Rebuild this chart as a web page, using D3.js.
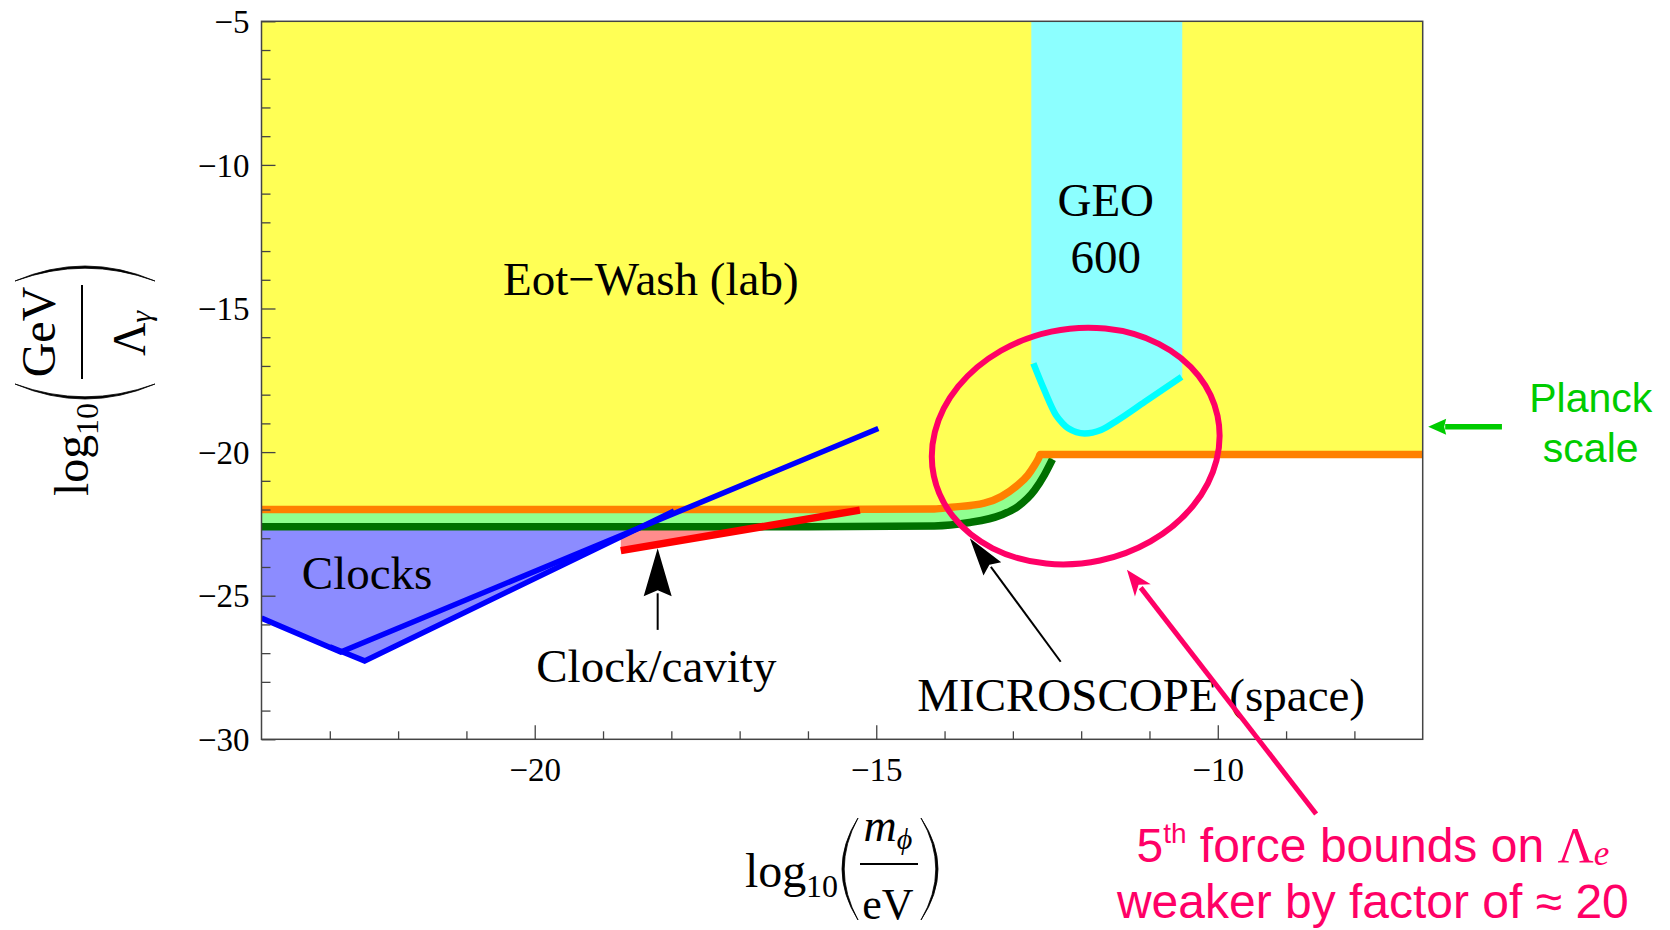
<!DOCTYPE html>
<html>
<head>
<meta charset="utf-8">
<script src="https://cdn.jsdelivr.net/npm/d3@7"></script>
<style>
  html, body { margin: 0; padding: 0; background: #fff; }
  svg { display: block; }
</style>
</head>
<body>
<svg id="chart" width="1670" height="930"></svg>
<script>
// ---- axes (log10 units) ----
const xDomain = [-24, -7];
const yDomain = [-30, -5];
const xMajorTicks = [-20, -15, -10];
const yMajorTicks = [-30, -25, -20, -15, -10, -5];

// ---- Eot-Wash (lab) bound, upper edge of the excluded region ----
const eotWashX = [-24, -16, -14.15, -13.9, -13.42, -13.17, -12.93, -12.78, -12.68, -12.62, -12.6, -7];
const eotWashY = [-22.0, -22.0, -21.98, -21.92, -21.78, -21.55, -21.15, -20.80, -20.45, -20.2, -20.08, -20.08];

// ---- MICROSCOPE (space) bound ----
const microscopeX = [-24, -16, -14.15, -13.66, -13.17, -12.93, -12.68, -12.54, -12.42];
const microscopeY = [-22.6, -22.6, -22.57, -22.46, -22.19, -21.90, -21.32, -20.80, -20.25];

// ---- GEO 600 ----
const geoBand = [-12.73, -10.52];
const geoX = [-12.70, -12.54, -12.37, -12.27, -12.19, -11.95, -11.71, -11.46, -11.07, -10.53];
const geoY = [-16.91, -17.84, -18.71, -19.0, -19.17, -19.35, -19.23, -18.88, -18.25, -17.38];

// ---- Clocks (two curves and their excluded region) ----
const clocksAX = [-24, -22.84, -14.97];
const clocksAY = [-25.78, -26.96, -19.18];
const clocksBX = [-23.0, -22.49, -17.96];
const clocksBY = [-26.78, -27.27, -22.05];
const clocksFillX = [-24, -24, -22.49, -18.44];
const clocksFillY = [-22.6, -25.78, -27.27, -22.6];

// ---- Clock/cavity ----
const cavityX = [-18.74, -15.24];
const cavityY = [-23.43, -22.02];
const cavityFillX = [-18.74, -16.68, -18.74];
const cavityFillY = [-23.43, -22.6, -22.6];

const zip = (xs, ys) => xs.map((v, i) => [v, ys[i]]);

const svg = d3.select("#chart");
const W = 1670, H = 930;
const plot = { left: 261.5, top: 21.3, right: 1422.7, bottom: 739.3 };

const x = d3.scaleLinear().domain(xDomain).range([plot.left, plot.right]);
const y = d3.scaleLinear().domain(yDomain).range([plot.bottom, plot.top]);

const SERIF = "'Liberation Serif', 'Times New Roman', serif";
const SANS = "'Liberation Sans', Arial, sans-serif";

svg.append("rect").attr("width", W).attr("height", H).attr("fill", "#fff");

svg.append("defs").append("clipPath").attr("id", "plotClip")
  .append("rect")
  .attr("x", plot.left).attr("y", plot.top)
  .attr("width", plot.right - plot.left).attr("height", plot.bottom - plot.top);

const g = svg.append("g").attr("clip-path", "url(#plotClip)");

const lineGen = d3.line().x(d => x(d[0])).y(d => y(d[1]));
const smoothLine = d3.line().x(d => x(d[0])).y(d => y(d[1])).curve(d3.curveMonotoneX);
const fromTop = d3.area().x(d => x(d[0])).y0(y(yDomain[1])).y1(d => y(d[1])).curve(d3.curveMonotoneX);

// region between the two fifth-force bounds
g.append("path").attr("d", fromTop(zip(microscopeX, microscopeY))).attr("fill", "#90ff90");
// Eot-Wash excluded region
g.append("path").attr("d", fromTop(zip(eotWashX, eotWashY))).attr("fill", "#ffff55");

// GEO 600 band
const geoPts = zip(geoX, geoY);
const geoFill = [[geoBand[0], geoY[0]], ...geoPts, [geoBand[1], geoY[geoY.length - 1]]];
g.append("path").attr("d", fromTop(geoFill)).attr("fill", "#8cffff");

// Clock/cavity and Clocks excluded regions
g.append("path").attr("d", lineGen(zip(cavityFillX, cavityFillY)) + "Z").attr("fill", "#ff8c8c");
g.append("path").attr("d", lineGen(zip(clocksFillX, clocksFillY)) + "Z").attr("fill", "#8c8cff");

// bound curves
g.append("path").attr("d", smoothLine(zip(microscopeX, microscopeY)))
  .attr("fill", "none").attr("stroke", "#007000").attr("stroke-width", 7.5);
g.append("path").attr("d", smoothLine(zip(eotWashX, eotWashY)))
  .attr("fill", "none").attr("stroke", "#ff8000").attr("stroke-width", 7.5);
g.append("path").attr("d", smoothLine(geoPts))
  .attr("fill", "none").attr("stroke", "#00ffff").attr("stroke-width", 6.5);
g.append("path").attr("d", lineGen(zip(cavityX, cavityY)))
  .attr("fill", "none").attr("stroke", "#ff0000").attr("stroke-width", 7.5);
g.append("path").attr("d", lineGen(zip(clocksAX, clocksAY)))
  .attr("fill", "none").attr("stroke", "#0000ff").attr("stroke-width", 5.5);
g.append("path").attr("d", lineGen(zip(clocksBX, clocksBY)))
  .attr("fill", "none").attr("stroke", "#0000ff").attr("stroke-width", 5.5);

// ---- frame and ticks ----
const frameColor = "#444";
const axes = svg.append("g");
const xMinor = d3.range(xDomain[0] + 1, xDomain[1]).filter(v => !xMajorTicks.includes(v));
const yMinor = d3.range(yDomain[0] + 1, yDomain[1]).filter(v => !yMajorTicks.includes(v));
const fmt = d => (d < 0 ? "\u2212" : "") + Math.abs(d);

function styleAxis(sel) {
  sel.select(".domain").remove();
  sel.selectAll("line").attr("stroke", frameColor).attr("stroke-width", 1.3);
}

axes.append("g").attr("transform", `translate(0,${plot.bottom})`)
  .call(d3.axisBottom(x).tickValues(xMinor).tickSize(-8).tickSizeOuter(0).tickFormat(""))
  .call(styleAxis);
axes.append("g").attr("transform", `translate(0,${plot.bottom})`)
  .call(d3.axisBottom(x).tickValues(xMajorTicks).tickSize(-14).tickSizeOuter(0).tickFormat(fmt))
  .call(styleAxis)
  .call(s => s.selectAll("text").attr("y", 42).attr("dy", null)
    .attr("font-family", SERIF).attr("font-size", 33).attr("fill", "#000"));

axes.append("g").attr("transform", `translate(${plot.left},0)`)
  .call(d3.axisLeft(y).tickValues(yMinor).tickSize(-9).tickSizeOuter(0).tickFormat(""))
  .call(styleAxis);
axes.append("g").attr("transform", `translate(${plot.left},0)`)
  .call(d3.axisLeft(y).tickValues(yMajorTicks).tickSize(-14).tickSizeOuter(0).tickFormat(fmt))
  .call(styleAxis)
  .call(s => s.selectAll("text").attr("x", -12).attr("dy", "0.34em")
    .attr("font-family", SERIF).attr("font-size", 33).attr("fill", "#000"));

axes.append("rect")
  .attr("x", plot.left).attr("y", plot.top)
  .attr("width", plot.right - plot.left).attr("height", plot.bottom - plot.top)
  .attr("fill", "none").attr("stroke", frameColor).attr("stroke-width", 1.5);

// ---- helpers ----
function arrowHead(parent, tip, from, len, halfW, notch, color) {
  const dx = tip[0] - from[0], dy = tip[1] - from[1];
  const L = Math.hypot(dx, dy), ux = dx / L, uy = dy / L;
  const px = -uy, py = ux;
  const bx = tip[0] - ux * len, by = tip[1] - uy * len;
  const nx = tip[0] - ux * (len - notch), ny = tip[1] - uy * (len - notch);
  const pts = [tip, [bx + px * halfW, by + py * halfW], [nx, ny], [bx - px * halfW, by - py * halfW]];
  parent.append("polygon").attr("points", pts.map(p => p.join(",")).join(" ")).attr("fill", color);
}
function arrow(parent, from, tip, width, len, halfW, notch, color) {
  const dx = tip[0] - from[0], dy = tip[1] - from[1];
  const L = Math.hypot(dx, dy);
  const ex = tip[0] - dx / L * (len - notch * 0.5), ey = tip[1] - dy / L * (len - notch * 0.5);
  parent.append("line").attr("x1", from[0]).attr("y1", from[1]).attr("x2", ex).attr("y2", ey)
    .attr("stroke", color).attr("stroke-width", width);
  arrowHead(parent, tip, from, len, halfW, notch, color);
}
// tall parenthesis as a filled crescent: ends at ex, bulging to bx
function paren(parent, ex, y0, y1, bx, t) {
  const mid = (y0 + y1) / 2;
  const c1 = 2 * bx - ex;
  const c2 = 2 * (bx + (ex > bx ? t : -t)) - ex;
  parent.append("path")
    .attr("d", `M${ex},${y0} Q${c1},${mid} ${ex},${y1} Q${c2},${mid} ${ex},${y0} Z`)
    .attr("fill", "#000").attr("stroke", "#000").attr("stroke-width", 0.8);
}

// ---- labels inside the plot ----
const ann = svg.append("g");
const serifText = (px, py, str, anchor) => ann.append("text")
  .attr("x", px).attr("y", py).attr("text-anchor", anchor || "middle")
  .attr("font-family", SERIF).attr("font-size", 47).attr("fill", "#000").text(str);

serifText(x(-18.30), y(-14.53), "Eot\u2212Wash (lab)");
serifText(x(-11.64), y(-11.78), "GEO");
serifText(x(-11.64), y(-13.75), "600");
serifText(x(-23.41), y(-24.78), "Clocks", "start");
serifText(x(-18.22), y(-27.99), "Clock/cavity");
serifText(x(-14.40), y(-29.0), "MICROSCOPE (space)", "start");

// Clock/cavity pointer
arrow(ann, [x(-18.20), y(-26.19)], [x(-18.20), y(-23.35)], 2, 48, 14, 6, "#000");
// MICROSCOPE pointer
arrow(ann, [x(-12.30), y(-27.30)], [x(-13.63), y(-23.0)], 2, 38, 11, 5, "#000");

// highlighted region and its note
const pink = "#ff0066";
ann.append("ellipse")
  .attr("transform", `translate(${x(-12.08)},${y(-19.79)}) rotate(-12)`)
  .attr("rx", 145).attr("ry", 117)
  .attr("fill", "none").attr("stroke", pink).attr("stroke-width", 6);
arrow(ann, [x(-8.56), y(-32.60)], [x(-11.33), y(-24.10)], 5, 26, 10, 7, pink);

const note = ann.append("g").attr("font-family", SANS).attr("fill", pink).attr("font-size", 48);
const l1 = note.append("text").attr("x", x(-7.73)).attr("y", y(-34.28)).attr("text-anchor", "middle");
l1.append("tspan").text("5");
l1.append("tspan").attr("font-size", 28).attr("dy", -19).text("th");
l1.append("tspan").attr("dy", 19).text(" force bounds on ");
l1.append("tspan").attr("font-family", SERIF).attr("font-size", 50).text("\u039B");
l1.append("tspan").attr("font-family", SERIF).attr("font-style", "italic").attr("font-size", 35).attr("dy", 3).text("e");
note.append("text").attr("x", x(-7.73)).attr("y", y(-36.21)).attr("text-anchor", "middle")
  .text("weaker by factor of \u2248 20");

// Planck scale marker
const green = "#00cc00";
arrow(ann, [x(-5.84), y(-19.12)], [x(-6.92), y(-19.12)], 5.5, 18, 8, 2, green);
const planck = ann.append("g").attr("font-family", SANS).attr("fill", green).attr("font-size", 41)
  .attr("text-anchor", "middle");
planck.append("text").attr("x", x(-4.54)).attr("y", y(-18.60)).text("Planck");
planck.append("text").attr("x", x(-4.54)).attr("y", y(-20.34)).text("scale");

// ---- axis titles ----
// x: log10(m_phi / eV)
const xt = svg.append("g").attr("font-family", SERIF).attr("fill", "#000");
xt.append("text").attr("x", 745).attr("y", 887).attr("font-size", 48).text("log");
xt.append("text").attr("x", 806).attr("y", 897).attr("font-size", 32).text("10");
paren(xt, 858, 818, 920, 842, 2.2);
const num = xt.append("text").attr("x", 888).attr("y", 841).attr("text-anchor", "middle").attr("font-style", "italic");
num.append("tspan").attr("font-size", 46).text("m");
num.append("tspan").attr("font-size", 30).attr("dy", 8).text("\u03D5");
xt.append("line").attr("x1", 860).attr("x2", 918).attr("y1", 864).attr("y2", 864)
  .attr("stroke", "#000").attr("stroke-width", 2);
xt.append("text").attr("x", 888).attr("y", 919).attr("text-anchor", "middle").attr("font-size", 44).text("eV");
paren(xt, 921, 818, 920, 938, 2.2);

// y: log10(GeV / Lambda_gamma), drawn rotated; local (u, v) -> page (v, -u)
const yt = svg.append("g").attr("transform", "rotate(-90)").attr("font-family", SERIF).attr("fill", "#000");
yt.append("text").attr("x", -496).attr("y", 88).attr("font-size", 48).text("log");
yt.append("text").attr("x", -435).attr("y", 98).attr("font-size", 32).text("10");
paren(yt, -384, 15, 155, -399, 2.2);
yt.append("text").attr("x", -332).attr("y", 55).attr("text-anchor", "middle").attr("font-size", 48).text("GeV");
yt.append("line").attr("x1", -379).attr("x2", -285).attr("y1", 82).attr("y2", 82)
  .attr("stroke", "#000").attr("stroke-width", 2);
const den = yt.append("text").attr("x", -356).attr("y", 145);
den.append("tspan").attr("font-size", 46).text("\u039B");
den.append("tspan").attr("font-size", 30).attr("font-style", "italic").attr("dy", 6).text("\u03B3");
paren(yt, -281, 15, 155, -266, 2.2);
</script>
</body>
</html>
